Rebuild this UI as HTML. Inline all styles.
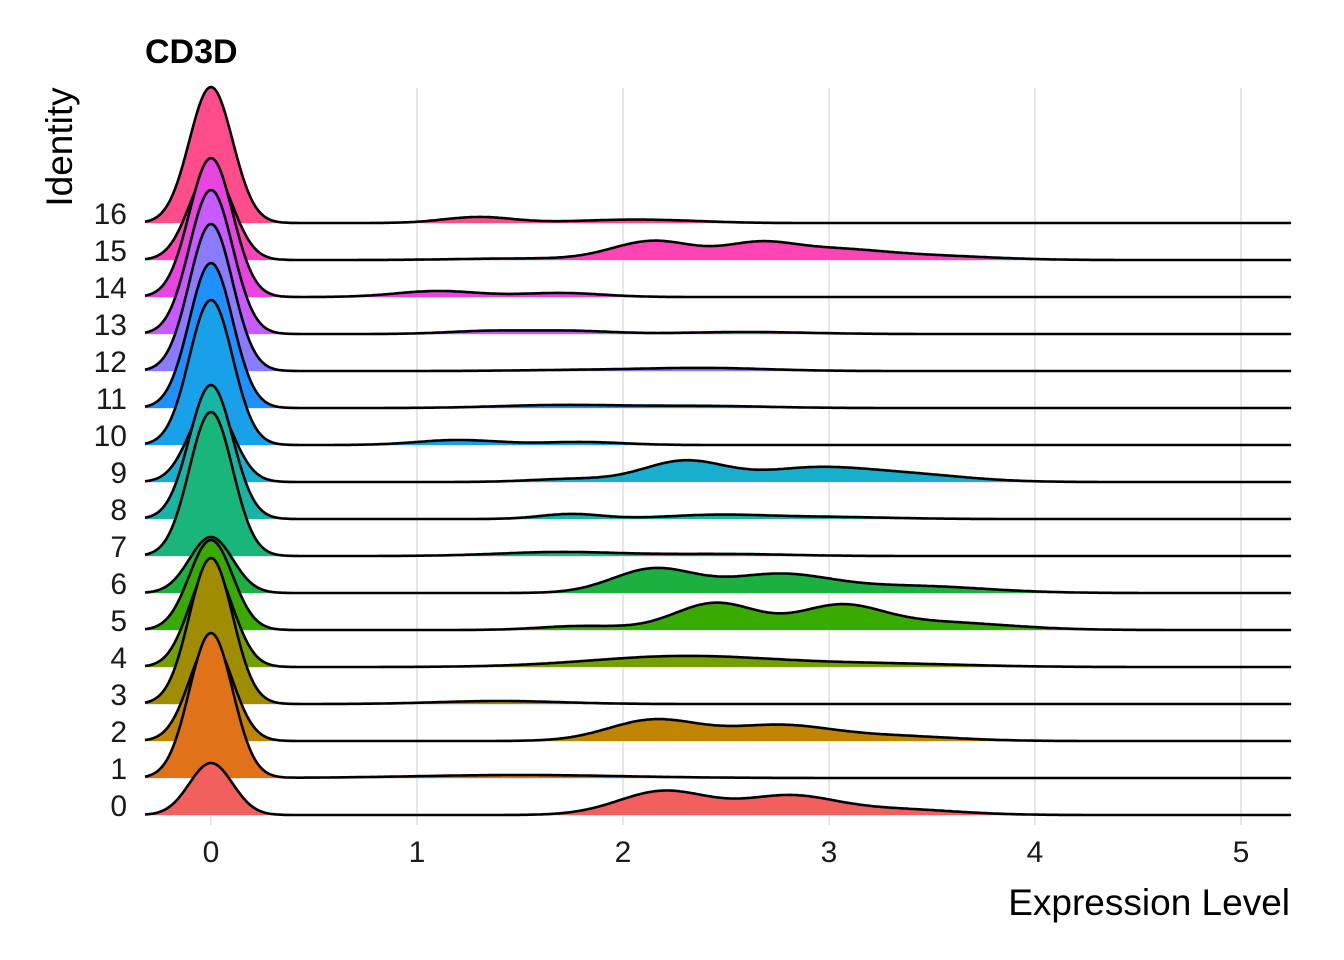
<!DOCTYPE html>
<html><head><meta charset="utf-8"><style>
html,body{margin:0;padding:0;background:#fff;}
svg{display:block;font-family:"Liberation Sans",Arial,sans-serif;}
</style></head><body>
<svg id="s" width="1344" height="960" viewBox="0 0 1344 960" xmlns="http://www.w3.org/2000/svg">
<g id="grid" stroke="#dedede" stroke-width="1.5"></g>
<g id="ridges"></g>
<text x="145" y="63" font-size="34" font-weight="bold" fill="#000">CD3D</text>
<g font-size="30" fill="#1a1a1a" text-anchor="end">
<text x="127" y="224">16</text><text x="127" y="261">15</text><text x="127" y="298">14</text>
<text x="127" y="335">13</text><text x="127" y="372">12</text><text x="127" y="409">11</text>
<text x="127" y="446">10</text><text x="127" y="483">9</text><text x="127" y="520">8</text>
<text x="127" y="557">7</text><text x="127" y="594">6</text><text x="127" y="631">5</text>
<text x="127" y="668">4</text><text x="127" y="705">3</text><text x="127" y="742">2</text>
<text x="127" y="779">1</text><text x="127" y="816">0</text>
</g>
<g font-size="30" fill="#1a1a1a" text-anchor="middle">
<text x="211" y="862">0</text><text x="417" y="862">1</text><text x="623" y="862">2</text>
<text x="829" y="862">3</text><text x="1035" y="862">4</text><text x="1241" y="862">5</text>
</g>
<text x="1290" y="915" font-size="37" text-anchor="end" fill="#000">Expression Level</text>
<text transform="translate(72,147) rotate(-90)" font-size="37" text-anchor="middle" fill="#000">Identity</text>
</svg>
<script>
var X=function(u){return 211+206*u;};
var rows=[
 [52,'#F2605E',[[2.2,24,0.22],[2.8,18,0.22],[3.3,6,0.3]]],
 [145,'#E0731A',[[1.5,3,0.5]]],
 [100,'#C08400',[[2.15,21,0.22],[2.75,15,0.25],[3.3,5,0.3]]],
 [146,'#A08C00',[[1.4,3,0.3]]],
 [100,'#73A000',[[2.3,11,0.45],[3.3,3,0.4]]],
 [90,'#3AAA00',[[1.8,4,0.2],[2.45,27,0.2],[3.05,22,0.2],[3.5,8,0.35]]],
 [56,'#1BB040',[[2.15,24,0.2],[2.75,18,0.25],[3.4,7,0.35]]],
 [144,'#19B57B',[[1.7,4,0.3],[2.5,2,0.3]]],
 [134,'#19B5A4',[[1.75,5,0.15],[2.45,4,0.25],[3.0,2,0.3]]],
 [80,'#18AFCF',[[1.75,3,0.2],[2.3,21,0.2],[2.9,12,0.25],[3.35,8,0.3]]],
 [145,'#18A0E8',[[1.2,5,0.2],[1.8,3,0.2]]],
 [145,'#1E90FF',[[1.7,3,0.3],[2.4,2,0.3]]],
 [147,'#8A7BFF',[[2.4,3,0.3],[1.8,1,0.3]]],
 [144,'#C65BFF',[[1.35,3,0.2],[1.75,3,0.2],[2.6,2,0.3]]],
 [139,'#E845E0',[[1.1,6,0.2],[1.7,4,0.2]]],
 [90,'#FF45B5',[[1.5,1.5,0.3],[2.15,19,0.2],[2.65,14,0.17],[3.0,10,0.25],[3.5,4,0.3]]],
 [136,'#FF4C8C',[[1.3,6,0.17],[2.0,3,0.25],[2.3,1,0.2]]]
];
var sg=document.getElementById('grid'),rg=document.getElementById('ridges');
var NS='http://www.w3.org/2000/svg';
for(var i=0;i<=5;i++){var l=document.createElementNS(NS,'line');l.setAttribute('x1',X(i));l.setAttribute('x2',X(i));l.setAttribute('y1',88);l.setAttribute('y2',825);sg.appendChild(l);}
for(var r=0;r<17;r++){var l=document.createElementNS(NS,'line');var y=815-37*r;l.setAttribute('x1',145);l.setAttribute('x2',1292);l.setAttribute('y1',y);l.setAttribute('y2',y);sg.appendChild(l);}
for(var r=16;r>=0;r--){
 var d=rows[r],base=815-37*r,pts=[];
 for(var px=145;px<=1292;px+=2){
  var u=(px-211)/206,h=d[0]*Math.exp(-0.5*Math.pow(u/0.105,2));
  d[2].forEach(function(b){h+=b[1]*Math.exp(-0.5*Math.pow((u-b[0])/b[2],2));});
  pts.push(px+','+(base-h).toFixed(1));
 }
 var f=document.createElementNS(NS,'path');
 f.setAttribute('d','M145,'+base+' L'+pts.join(' L')+' L1292,'+base+' Z');
 f.setAttribute('fill',d[1]);rg.appendChild(f);
 var s=document.createElementNS(NS,'path');
 s.setAttribute('d','M'+pts.join(' L'));
 s.setAttribute('fill','none');s.setAttribute('stroke','#000');s.setAttribute('stroke-width','2.6');s.setAttribute('stroke-linejoin','round');
 rg.appendChild(s);
}
</script>
</body></html>
